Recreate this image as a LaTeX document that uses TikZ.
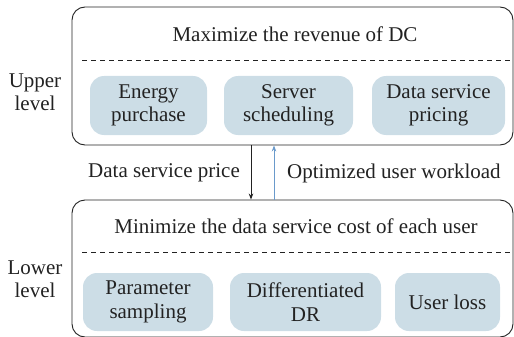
\documentclass[tikz,border=0pt]{standalone}
\usepackage{fontspec}
\setmainfont{LiberationSerif}[Extension=.ttf, UprightFont=*-Regular, BoldFont=*-Bold]
\usetikzlibrary{arrows.meta}
\definecolor{subfill}{HTML}{CCDDE6}
\definecolor{upblue}{HTML}{6A9ACB}
\definecolor{txt}{HTML}{222222}
\begin{document}
\begin{tikzpicture}[x=1pt,y=-1pt,
  every node/.style={font=\rmfamily\fontsize{21}{23.5}\selectfont, text=txt, inner sep=0pt},
  outerbox/.style={draw=txt, line width=0.9pt, rounded corners=13pt},
  subbox/.style={fill=subfill, rounded corners=14pt, align=center, minimum height=59pt},
  sep/.style={draw=txt, dashed, dash pattern=on 5pt off 4pt, line width=0.8pt},
  lvl/.style={align=center},
  arr/.style={line width=0.8pt, -{Stealth[length=6pt,width=4.5pt]}}
]
\useasboundingbox (0,0) rectangle (514,337);

% upper level
\node[outerbox, minimum width=441pt, minimum height=138pt] (upper) at (292.5,76) {};
\node (uptitle) at (295,34) {Maximize the revenue of DC};
\coordinate (ud1) at (82,60);
\coordinate (ud2) at (512,60);
\draw[sep] (ud1) -- (ud2);
\node[subbox, minimum width=117pt] (energy) at (148.5,105.5) {Energy\\purchase};
\node[subbox, minimum width=129pt] (server) at (288.5,105.5) {Server\\scheduling};
\node[subbox, minimum width=133pt] (pricing) at (438.5,105.5) {Data service\\pricing};
\node[lvl] (uplabel) at (35,92) {Upper\\level};

% lower level
\node[outerbox, minimum width=441pt, minimum height=137pt] (lower) at (292.5,268.5) {};
\node (lowtitle) at (296,226) {Minimize the data service cost of each user};
\coordinate (ld1) at (82,252);
\coordinate (ld2) at (512,252);
\draw[sep] (ld1) -- (ld2);
\node[subbox, minimum width=130pt, minimum height=58pt] (param) at (148,302) {Parameter\\sampling};
\node[subbox, minimum width=151pt, minimum height=58pt] (diff) at (305.5,302) {Differentiated\\DR};
\node[subbox, minimum width=105pt, minimum height=58pt] (loss) at (447.5,302) {User loss};
\node[lvl] (lowlabel) at (35,279) {Lower\\level};

% connectors
\draw[arr, draw=txt] (upper.south -| 251,0) -- (lower.north -| 251,0);
\draw[arr, draw=upblue] (lower.north -| 274,0) -- (upper.south -| 274,0);
\node[anchor=east] (pricelbl) at (240,173) {Data service price};
\node[anchor=west] (worklbl) at (287,173) {Optimized user workload};
\end{tikzpicture}
\end{document}
